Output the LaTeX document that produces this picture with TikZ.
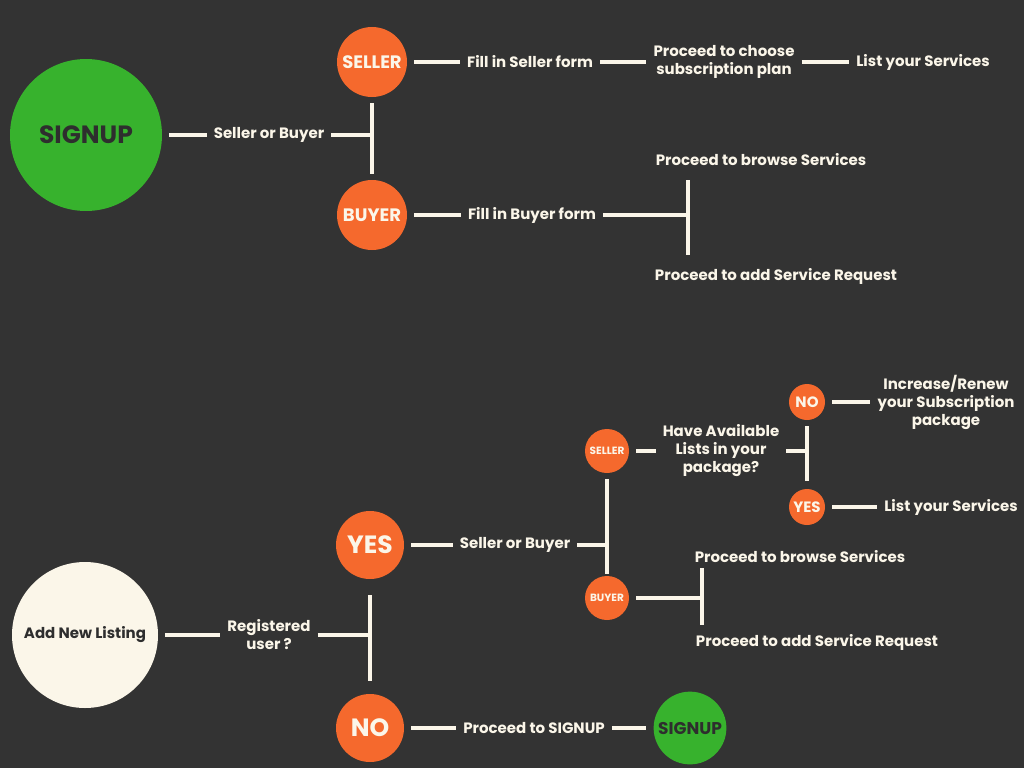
\documentclass[tikz,border=0pt]{standalone}
\usepackage{fontspec}
\setmainfont{Poppins}
\definecolor{bgdark}{HTML}{333333}
\definecolor{cream}{HTML}{FBF6E9}
\definecolor{orng}{HTML}{F5692D}
\definecolor{grn}{HTML}{37B22D}
\definecolor{ink}{HTML}{2E2E2E}
\newcommand{\fs}[1]{\fontsize{#1}{18}\selectfont}
\begin{document}
\begin{tikzpicture}[x=1pt, y=-1pt, font=\bfseries\fs{15},
		link/.style={draw=cream, line width=4pt, shorten <=7pt, shorten >=7pt},
		bar/.style={draw=cream, line width=4pt},
		txt/.style={text=cream, align=center, inner sep=0pt},
		bubble/.style={circle, fill=orng, text=cream, inner sep=0pt, minimum size=#1}]
	\fill[bgdark] (0,0) rectangle (1024,768);
	\useasboundingbox (0,0) rectangle (1024,768);
	% signup flow
	\node[circle, fill=grn, text=ink, minimum size=152pt, font=\bfseries\fs{25}] (signup) at (86,135) {SIGNUP};
	\node[txt] (q1) at (269,135) {Seller or Buyer};
	\node[bubble=70pt, font=\bfseries\fs{18}] (seller) at (372,62) {SELLER};
	\node[bubble=70pt, font=\bfseries\fs{18}] (buyer) at (372,215) {BUYER};
	\node[txt] (sf) at (530,62) {Fill in Seller form};
	\node[txt] (sp) at (724,62) {Proceed to choose\\subscription plan};
	\node[txt] (sl) at (923,62) {List your Services};
	\node[txt] (bf) at (532,215) {Fill in Buyer form};
	\node[txt] (bb) at (761,160) {Proceed to browse Services};
	\node[txt] (br) at (776,276) {Proceed to add Service Request};
	\coordinate (j1) at (372,135);
	\coordinate (j2) at (688,215);
	\coordinate (j2a) at (688,180);
	\coordinate (j2b) at (688,255);
	% listing flow
	\node[circle, fill=cream, text=ink, minimum size=146pt, font=\bfseries\fs{15}] (add) at (85,635) {Add New Listing};
	\node[txt] (reg) at (269,635) {Registered\\user ?};
	\node[bubble=68pt, font=\bfseries\fs{25}] (yes) at (370,545) {YES};
	\node[bubble=68pt, font=\bfseries\fs{25}] (no) at (370,728) {NO};
	\node[txt] (q2) at (515,545) {Seller or Buyer};
	\node[bubble=44pt, font=\bfseries\fs{10.5}] (sel2) at (607,451) {SELLER};
	\node[bubble=44pt, font=\bfseries\fs{10.5}] (buy2) at (607,598) {BUYER};
	\node[txt] (hv) at (721,451) {Have Available\\Lists in your\\package?};
	\node[bubble=36pt, font=\bfseries\fs{15}] (no2) at (807,402) {NO};
	\node[bubble=36pt, font=\bfseries\fs{15}] (yes2) at (807,507) {YES};
	\node[txt] (inc) at (946,402) {Increase/Renew\\your Subscription\\package};
	\node[txt] (ls2) at (951,507) {List your Services};
	\node[txt] (bb2) at (800,557) {Proceed to browse Services};
	\node[txt] (br2) at (817,642) {Proceed to add Service Request};
	\node[txt] (ps) at (534,728) {Proceed to SIGNUP};
	\node[circle, fill=grn, text=ink, minimum size=68pt, font=\bfseries\fs{17}] (sg2) at (690,728) {SIGNUP};
	\coordinate (k1) at (371,635);
	\coordinate (k2) at (607,545);
	\coordinate (k3) at (806,451);
	\coordinate (k4) at (702,598);
	% straight links
	\foreach \a/\b in {signup/q1, seller/sf, sf/sp, sp/sl, buyer/bf, add/reg, yes/q2, sel2/hv, no2/inc, yes2/ls2, no/ps, ps/sg2}
	\draw[link] (\a) -- (\b);
	% branches
	\foreach \a/\b in {q1/j1, bf/j2, reg/k1, q2/k2, hv/k3, buy2/k4}
	\draw[link, shorten >=0pt] (\a) -- (\b);
	\draw[link, shorten <=6pt, shorten >=6pt] (seller) -- (buyer);
	\draw[bar] (j2a) -- (j2b);
	\draw[link, shorten <=16pt, shorten >=13pt] (yes) -- (no);
	\draw[link, shorten <=6pt, shorten >=2pt] (sel2) -- (buy2);
	\draw[link, shorten <=6pt, shorten >=8pt] (no2) -- (yes2);
	\draw[bar] (702,568) -- (702,625);
\end{tikzpicture}
\end{document}
